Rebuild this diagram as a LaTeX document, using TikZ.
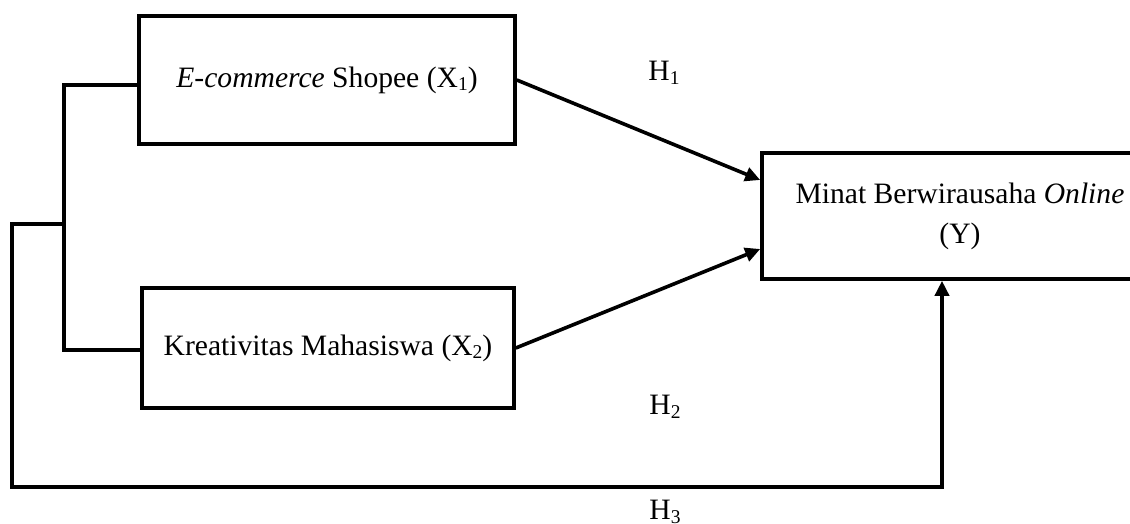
\documentclass[tikz,border=0pt]{standalone}
\usepackage{fontspec}
\setmainfont{Liberation Serif}
\usetikzlibrary{arrows.meta}
\newcommand\sbs[1]{\raisebox{-0.12em}{\fontsize{19.5}{19.5}\selectfont #1}}
\begin{document}
\begin{tikzpicture}[x=1pt,y=-1pt,
  box/.style={draw,line width=3.6pt,rectangle,inner sep=0pt,align=center,
    font=\fontsize{29.6}{40}\selectfont},
  lbl/.style={inner sep=0pt,font=\fontsize{29.6}{40}\selectfont},
  link/.style={line width=3.6pt},
  arr/.style={line width=3.6pt,-{Triangle[length=15pt,width=14pt]}}]
\useasboundingbox (0,0) rectangle (1130,524);
\clip (0,0) rectangle (1130,524);
\node[box,minimum width=376pt,minimum height=128pt] (x1) at (327,80)
  {\textit{E-commerce} Shopee (X\sbs{1})};
\node[box,minimum width=372pt,minimum height=120pt] (x2) at (328,348)
  {Kreativitas Mahasiswa (X\sbs{2})};
\node[box,minimum width=396pt,minimum height=126pt] (y) at (960,216)
  {Minat Berwirausaha \textit{Online}\\(Y)};
\node[lbl] (h1) at (664,73) {H\sbs{1}};
\node[lbl] (h2) at (665,407) {H\sbs{2}};
\node[lbl] (h3) at (665,512) {H\sbs{3}};
\coordinate (br) at (64,224);
\coordinate (lft) at (12,224);
\coordinate (c3) at (942,487);
\draw[arr] (x1.east) -- ([yshift=36pt]y.west);
\draw[arr] (x2.east) -- ([yshift=-33pt]y.west);
\draw[link] ([yshift=-5pt]x1.west) -| (br) |- ([yshift=-2pt]x2.west);
\draw[arr] (br) -- (lft) |- (c3) -- ([xshift=-18pt]y.south);
\end{tikzpicture}
\end{document}
